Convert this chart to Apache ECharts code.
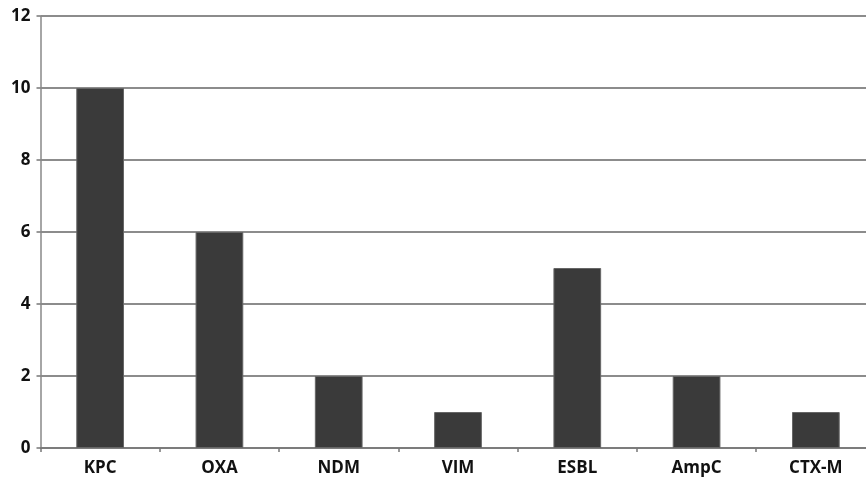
<!DOCTYPE html>
<html><head><meta charset="utf-8">
<script src="https://cdn.jsdelivr.net/npm/echarts@6/dist/echarts.min.js"></script>
<style>html,body{margin:0;padding:0;background:#fff}#c{width:866px;height:477px}</style>
</head><body><div id="c"></div>
<script>
var categories = ['KPC','OXA','NDM','VIM','ESBL','AmpC','CTX-M'];
var values = [10,6,2,1,5,2,1];
var yTicks = [0,2,4,6,8,10,12];

var chart = echarts.init(document.getElementById('c'));
chart.setOption({
  animation:false,
  grid:{left:40.5, width:835, top:16, height:432, containLabel:false, outerBoundsMode:'none'},
  xAxis:{type:'category', data:categories,
    axisLine:{show:true, lineStyle:{color:'#777', width:1.5}},
    axisTick:{show:true, alignWithLabel:false, length:4, lineStyle:{color:'#777', width:1.5}},
    axisLabel:{color:'#111', fontFamily:'Open Sans', fontWeight:'bold', fontSize:17, margin:12},
    splitLine:{show:false}},
  yAxis:{type:'value', min:yTicks[0], max:yTicks[yTicks.length-1], interval:2,
    axisLine:{show:true, lineStyle:{color:'#888', width:1.5}},
    axisTick:{show:true, length:4, lineStyle:{color:'#777', width:1.5}},
    axisLabel:{color:'#111', fontFamily:'Open Sans', fontWeight:'bold', fontSize:17, margin:10},
    splitLine:{show:true, lineStyle:{color:'#666', width:1.5}}},
  series:[{type:'bar', data:values, barWidth:'40%',
    itemStyle:{color:'#3a3a3a', borderColor:'#666', borderWidth:1}}]
});
</script></body></html>
